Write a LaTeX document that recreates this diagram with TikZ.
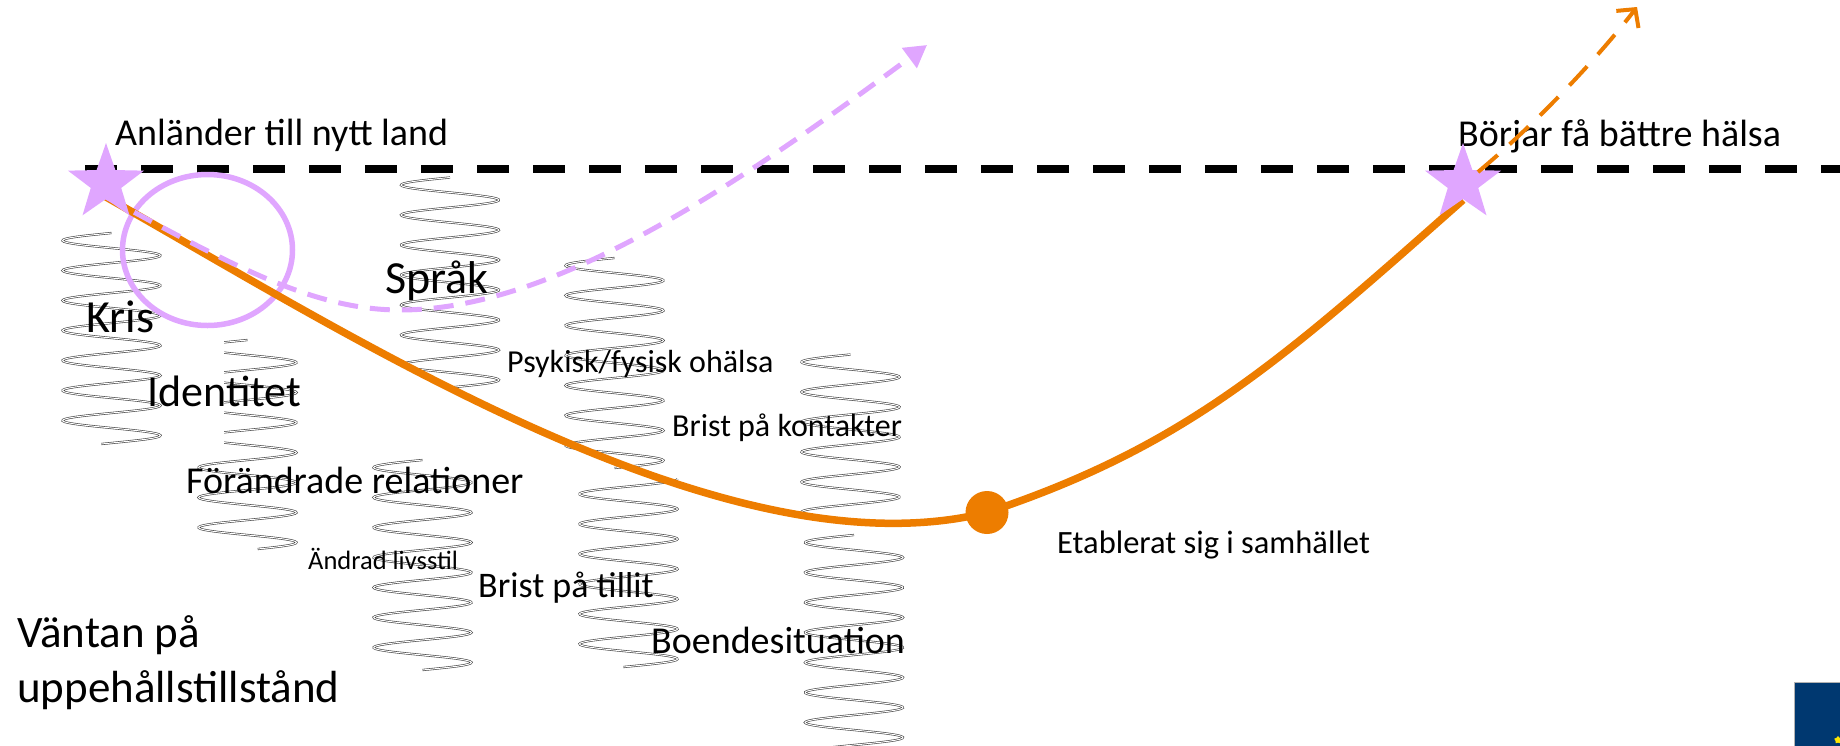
\documentclass[tikz,border=0pt]{standalone}
\usepackage{fontspec}
\setmainfont{Carlito}
\usetikzlibrary{shapes.geometric,arrows.meta}

\definecolor{pathorange}{RGB}{237,125,0}
\definecolor{lilac}{RGB}{224,166,255}
\definecolor{logoblue}{RGB}{0,56,112}

\tikzset{
  springline/.style={draw=black!75, line width=0.6pt, double=white, double distance=1pt},
  starmark/.style={star, star points=5, star point ratio=2.5, fill=lilac, draw=none, minimum size=80pt, inner sep=0pt},
  lbl/.style={inner sep=0pt, anchor=base west, text=black},
  journey/.style={pathorange, line width=7.5pt},
  wish/.style={lilac, line width=5pt, dash pattern=on 20pt off 12pt, -{Triangle[length=22pt,width=24pt]}},
  growth/.style={pathorange, line width=4pt, dash pattern=on 26pt off 16pt, -{Straight Barb[length=13pt,width=28pt]}},
  horizon/.style={black, line width=8pt, dash pattern=on 32pt off 24pt}
}

% centre x, top y, length, phase
\newcommand{\drawspring}[4]{%
  \draw[springline] plot[domain=0:#3, samples=220, variable=\q] ({#1-49*sin(12*\q+#4)}, {#2+\q});}

\begin{document}
\begin{tikzpicture}[x=1pt, y=-1pt]
    \useasboundingbox (0,0) rectangle (1840,745);

    % springs
    \drawspring{111.5}{233}{211}{0}
    \begin{scope}
        \clip (224,330) rectangle (305,460) (190,458) rectangle (305,560);
        \drawspring{247.5}{340}{209}{0}
    \end{scope}
    \drawspring{450}{177.5}{210}{0}
    \drawspring{614.5}{258}{210}{0}
    \drawspring{628.5}{479}{188}{-90}
    \drawspring{850.5}{354.5}{171}{0}
    \drawspring{854}{535}{215}{0}
    \drawspring{422.5}{460}{210}{0}

    \draw[horizon] (85,169) -- (1840,169);

    \node[lbl, font=\fontsize{38}{40}\selectfont] (arrivetxt) at (115,145) {Anländer till nytt land};
    \node[lbl, font=\fontsize{38}{40}\selectfont] (bettertxt) at (1458,146) {Börjar få bättre hälsa};
    \node[lbl, font=\fontsize{46}{48}\selectfont] (lang) at (385,293) {Språk};
    \node[lbl, font=\fontsize{46}{48}\selectfont] (crisis) at (86,332) {Kris};
    \node[lbl, font=\fontsize{44}{46}\selectfont] (ident) at (147,406) {Identitet};
    \node[lbl, font=\fontsize{32}{34}\selectfont] (health) at (507,372) {Psykisk/fysisk ohälsa};
    \node[lbl, font=\fontsize{32}{34}\selectfont] (contacts) at (672,436) {Brist på kontakter};
    \node[lbl, font=\fontsize{38}{40}\selectfont] (relations) at (186,493) {Förändrade relationer};
    \node[lbl, font=\fontsize{26.5}{28}\selectfont] (lifestyle) at (308,569) {Ändrad livsstil};
    \node[lbl, font=\fontsize{36}{38}\selectfont] (trust) at (478,597) {Brist på tillit};
    \node[lbl, font=\fontsize{38}{40}\selectfont] (housing) at (651,653) {Boendesituation};
    \node[lbl, font=\fontsize{45}{47}\selectfont] (waitA) at (17,647) {Väntan på};
    \node[lbl, font=\fontsize{45}{47}\selectfont] (waitB) at (17,702) {uppehållstillstånd};
    \node[lbl, font=\fontsize{32.5}{34}\selectfont] (settledtxt) at (1057,553) {Etablerat sig i samhället};

    \draw[lilac, line width=5.5pt] (207.5,250) ellipse [x radius=85pt, y radius=75.5pt];

    \coordinate (arrive) at (106,183);
    \coordinate (better) at (1463,183);
    \coordinate (wishend) at (927,45);
    \coordinate (growstart) at (1478,172);
    \coordinate (growend) at (1637,7);
    \coordinate (settled) at (987,512.5);

    \draw[journey] ([yshift=-14pt]arrive) .. controls (355,338) and (727,577) .. (settled)
        .. controls (1187,446) and (1282,360) .. ([yshift=-17pt]better);
    \draw[wish] ([yshift=-14pt]arrive) .. controls (225,261) and (310,310) .. (400,310)
        .. controls (550,310) and (727,193) .. (wishend);

    \node[starmark] (arrivestar) at (arrive) {};
    \node[starmark] (betterstar) at (better) {};
    \node[circle, fill=pathorange, minimum size=43pt, inner sep=0pt] (settleddot) at (settled) {};

    \draw[growth] (growstart) .. controls (1540,120) and (1600,55) .. (growend);

    \filldraw[fill=logoblue, draw=gray!60, line width=0.8pt] (1794,682) rectangle (1846,752);
    \node[star, star points=5, fill=yellow!90!orange, minimum size=8pt, inner sep=0pt] (logostar) at (1838,740) {};
\end{tikzpicture}
\end{document}
